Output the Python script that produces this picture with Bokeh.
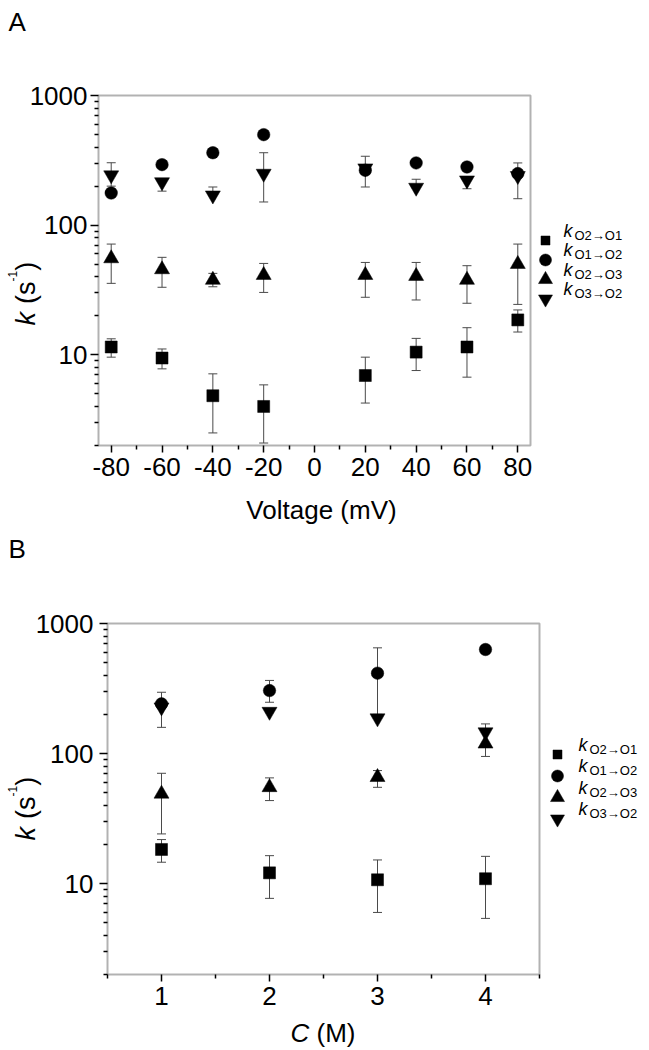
import math
from bokeh.plotting import figure
from bokeh.models import (ColumnDataSource, Whisker, TeeHead, FixedTicker, Label,
                          BoxAnnotation, Range1d, BasicTickFormatter)
from bokeh.layouts import column
from bokeh.embed import file_html
from bokeh.resources import INLINE

# ---------------- Panel A data (rate constants vs voltage) ----------------
voltage_mV = [-80, -60, -40, -20, 20, 40, 60, 80]
a_k_o2o1 = [11.5, 9.45, 4.84, 4.0, 6.93, 10.5, 11.5, 18.6]
a_k_o2o1_hi = [13.3, 11.1, 7.14, 5.87, 9.6, 13.4, 16.2, 22.2]
a_k_o2o1_lo = [9.6, 7.8, 2.5, 2.09, 4.25, 7.57, 6.73, 15.0]
a_k_o1o2 = [177, 293, 362, 499, 265, 302, 281, 250]
a_k_o1o2_hi = [177, 293, 362, 499, 265, 302, 281, 250]
a_k_o1o2_lo = [177, 293, 362, 499, 265, 302, 281, 250]
a_k_o2o3 = [55.4, 45.6, 37.8, 41.2, 41.2, 40.5, 37.8, 50.1]
a_k_o2o3_hi = [71.5, 56.5, 42.5, 50.7, 51.6, 51.6, 48.7, 71.5]
a_k_o2o3_lo = [35.6, 33.2, 33.5, 30.3, 27.8, 26.5, 25.0, 24.5]
a_k_o3o2 = [243, 215, 170, 250, 275, 195, 222, 240]
a_k_o3o2_hi = [303, 215, 197, 362, 340, 226, 222, 302]
a_k_o3o2_lo = [200, 183, 170, 151, 197, 195, 191, 160]
a_x_ticks = [-80, -60, -40, -20, 0, 20, 40, 60, 80]
a_x_tick_labels = ["-80", "-60", "-40", "-20", "0", "20", "40", "60", "80"]
a_x_range = [-85, 85]

# ---------------- Panel B data (rate constants vs concentration) ----------
conc_M = [1, 2, 3, 4]
b_k_o2o1 = [18.3, 12.1, 10.7, 10.9]
b_k_o2o1_hi = [21.8, 16.4, 15.2, 16.2]
b_k_o2o1_lo = [14.6, 7.7, 6.0, 5.4]
b_k_o1o2 = [241, 305, 415, 631]
b_k_o1o2_hi = [241, 365, 650, 631]
b_k_o1o2_lo = [241, 248, 200, 631]
b_k_o2o3 = [49, 55, 65.8, 119]
b_k_o2o3_hi = [70.5, 65, 74, 119]
b_k_o2o3_lo = [24.1, 43.5, 55, 95]
b_k_o3o2 = [227, 210, 187, 146]
b_k_o3o2_hi = [296, 210, 187, 169]
b_k_o3o2_lo = [159, 210, 187, 146]
b_x_ticks = [1, 2, 3, 4]
b_x_tick_labels = ["1", "2", "3", "4"]
b_x_range = [0.5, 4.5]

y_ticks = [10, 100, 1000]
y_tick_labels = ["10", "100", "1000"]
y_range = [2, 1000]
legend_subs = ["O2\u2192O1", "O1\u2192O2", "O2\u2192O3", "O3\u2192O2"]

FONT = "Liberation Sans"
EC = "#4a4a4a"
PAGE_L, FIG_W = 0, 649


def make_panel(xs, series, x_ticks, x_tick_labels, x_minor, xbox, box,
               fig_top, fig_h, letter, letter_pos, xlabel_parts, ylabel_bottom,
               legend_spec, label_standoff):
    bl, br, bt, bb = box
    x0, x1 = xbox
    ymin, ymax = y_range
    xpp = (x1 - x0) / (br - bl)
    lmin, lmax = math.log10(ymin), math.log10(ymax)
    lpp = (lmax - lmin) / (bb - bt)

    def X(px):
        return x0 + (px - bl) * xpp

    def Y(py):
        return 10 ** (lmax - (py - bt) * lpp)

    p = figure(width=FIG_W, height=fig_h,
               x_range=Range1d(X(PAGE_L), X(PAGE_L + FIG_W)),
               y_range=Range1d(Y(fig_top + fig_h), Y(fig_top)),
               y_axis_type="log", title=None,
               output_backend="svg", toolbar_location=None,
               min_border=0, min_border_left=0, min_border_right=0,
               min_border_top=0, min_border_bottom=0)
    p.outline_line_color = None
    p.grid.visible = False
    p.background_fill_color = "white"
    p.border_fill_color = "white"

    # axes, placed at the box edges
    p.xaxis.fixed_location = ymin
    p.xaxis.bounds = (x0, x1)
    p.xaxis.ticker = FixedTicker(ticks=x_ticks, minor_ticks=x_minor)
    p.xaxis.major_label_overrides = {t: l for t, l in zip(x_ticks, x_tick_labels)}
    p.xaxis.axis_line_color = None
    p.yaxis.fixed_location = x0
    p.yaxis.bounds = (ymin, ymax)
    p.yaxis.ticker = FixedTicker(
        ticks=y_ticks,
        minor_ticks=[m * t / 10 for t in y_ticks for m in range(2, 10)])
    p.yaxis.formatter = BasicTickFormatter()
    p.yaxis.major_label_overrides = {t: l for t, l in zip(y_ticks, y_tick_labels)}
    p.yaxis.axis_line_color = None
    for ax in (p.xaxis, p.yaxis):
        ax.major_tick_in = 0
        ax.minor_tick_in = 0
        ax.minor_tick_out = 4
        ax.major_tick_line_color = "black"
        ax.minor_tick_line_color = "black"
        ax.major_tick_line_width = 1.5
        ax.minor_tick_line_width = 1.5
        ax.major_label_text_font = FONT
        ax.major_label_text_font_size = "26px"
        ax.major_label_text_color = "black"
    p.xaxis.major_tick_out = 7
    p.xaxis.major_label_standoff = 5
    p.yaxis.major_tick_out = 8
    p.yaxis.major_label_standoff = label_standoff

    # box around plotting area
    p.add_layout(BoxAnnotation(left=x0, right=x1, bottom=ymin, top=ymax,
                               fill_alpha=0, line_color="black", line_width=2))

    # error bars (under markers)
    for vals, hi, lo, marker, size in series:
        src = ColumnDataSource(dict(x=xs, upper=hi, lower=lo))
        p.add_layout(Whisker(source=src, base="x", upper="upper", lower="lower",
                             line_color=EC, line_width=1, level="underlay",
                             upper_head=TeeHead(size=9, line_color=EC, line_width=1),
                             lower_head=TeeHead(size=9, line_color=EC, line_width=1)))
    for vals, hi, lo, marker, size in series:
        p.scatter(x=xs, y=vals, marker=marker, size=size,
                  fill_color="black", line_color="black", line_width=0.5)

    def text(px, py, txt, size, style="normal", align="left", angle=0.0):
        p.add_layout(Label(x=X(px), y=Y(py), text=txt, text_font=FONT,
                           text_font_size=f"{size}px", text_font_style=style,
                           text_align=align, text_baseline="middle",
                           angle=angle, text_color="black"))

    # legend
    mx, kx, subx, rows, msizes = legend_spec
    for (vals, hi, lo, marker, size), yc, sub, ms in zip(series, rows, legend_subs, msizes):
        p.scatter(x=[X(mx)], y=[Y(yc)], marker=marker, size=ms,
                  fill_color="black", line_color="black", line_width=0.5)
        text(kx, yc - 10, "k", 18, "italic")
        text(subx, yc - 5.5, sub, 13)

    # panel letter
    text(letter_pos[0], letter_pos[1], letter, 26)

    # x-axis title
    for txt, px, py, style, align in xlabel_parts:
        text(px, py, txt, 26, style, align)

    # y-axis title: k (s^-1), rotated
    pos = ylabel_bottom
    pieces = [("k", 27, "italic", 25.5, 0.5 * 27 + 8),
              ("(s", 27, "normal", 25.5, 0.833 * 27),
              ("-1", 12, "normal", 11.5, 0.889 * 12),
              (")", 27, "normal", 25.5, 0.333 * 27)]
    for txt, fs, style, cx, adv in pieces:
        text(cx, pos, txt, fs, style, "left", math.pi / 2)
        pos -= adv
    return p


a_series = [
    (a_k_o2o1, a_k_o2o1_hi, a_k_o2o1_lo, "square", 12),
    (a_k_o1o2, a_k_o1o2_hi, a_k_o1o2_lo, "circle", 12.5),
    (a_k_o2o3, a_k_o2o3_hi, a_k_o2o3_lo, "triangle", 15),
    (a_k_o3o2, a_k_o3o2_hi, a_k_o3o2_lo, "inverted_triangle", 15),
]
b_series = [
    (b_k_o2o1, b_k_o2o1_hi, b_k_o2o1_lo, "square", 12),
    (b_k_o1o2, b_k_o1o2_hi, b_k_o1o2_lo, "circle", 12.5),
    (b_k_o2o3, b_k_o2o3_hi, b_k_o2o3_lo, "triangle", 15),
    (b_k_o3o2, b_k_o3o2_hi, b_k_o3o2_lo, "inverted_triangle", 15),
]

a_minor = [t + 10 for t in a_x_ticks[:-1]]
b_minor = [b_x_ticks[0] - 0.5] + [t + 0.5 for t in b_x_ticks]

pA = make_panel(voltage_mV, a_series, a_x_ticks, a_x_tick_labels, a_minor, a_x_range,
                (98, 530, 95, 445), 0, 530, "A", (8, 21),
                [("Voltage (mV)", 321, 509.5, "normal", "center")], 325,
                (545, 563, 574, [240, 259.5, 279, 298.5], [9, 12, 14, 14]), 3)
pB = make_panel(conc_M, b_series, b_x_ticks, b_x_tick_labels, b_minor, b_x_range,
                (107, 539, 623, 974), 530, 520, "B", (8, 548.5),
                [("C", 290, 1032.5, "italic", "left"),
                 ("(M)", 316, 1032.5, "normal", "left")], 840,
                (557, 578, 589, [754, 775.5, 797, 818.5], [9, 12, 14, 14]), 6)

layout = column(pA, pB, spacing=0)
open("out.html", "w").write(file_html(layout, INLINE))
